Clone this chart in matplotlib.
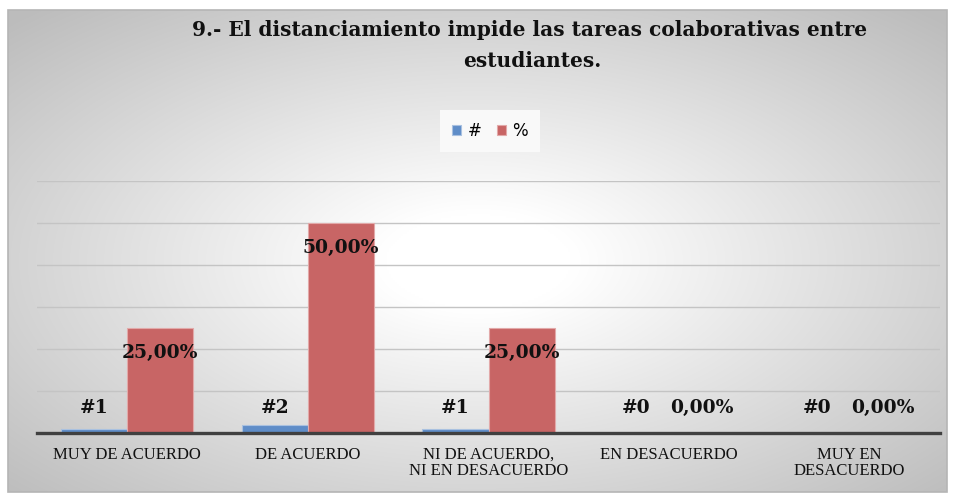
import numpy as np
import matplotlib
matplotlib.use("Agg")
import matplotlib.pyplot as plt
from matplotlib.patches import Rectangle

categories = ["MUY DE ACUERDO", "DE ACUERDO", "NI DE ACUERDO,\nNI EN DESACUERDO",
              "EN DESACUERDO", "MUY EN\nDESACUERDO"]
counts = [1, 2, 1, 0, 0]
percents = [25.0, 50.0, 25.0, 0.0, 0.0]
count_labels = ["#1", "#2", "#1", "#0", "#0"]
percent_labels = ["25,00%", "50,00%", "25,00%", "0,00%", "0,00%"]
series_names = ["#", "%"]
title_lines = ["9.- El distanciamiento impide las tareas colaborativas entre",
               "estudiantes."]

W, H, DPI = 956, 499, 100
fig = plt.figure(figsize=(W / DPI, H / DPI), dpi=DPI)
fig.patch.set_facecolor("white")

# background chart area with radial gradient
bg = fig.add_axes([8 / W, 1 - 492 / H, (947 - 8) / W, (492 - 10) / H])
bg.set_axis_off()
ny, nx = 240, 470
yy, xx = np.mgrid[0:ny, 0:nx]
cx, cy = nx * 0.5, ny * 0.52
r = np.sqrt(((xx - cx) / (nx * 0.5)) ** 2 + ((yy - cy) / (ny * 0.5)) ** 2)
val = 1 - 0.26 * np.clip((r - 0.2) / 1.2, 0, 1)
img = np.dstack([val, val, val])
bg.imshow(img, aspect="auto", extent=[0, 1, 0, 1], interpolation="bilinear")
bg.set_xlim(0, 1)
bg.set_ylim(0, 1)
bg.add_patch(Rectangle((0, 0), 1, 1, fill=False, edgecolor="#b5b5b5", linewidth=1.2,
                       transform=bg.transAxes, clip_on=False))

ax = fig.add_axes([37 / W, 1 - 433 / H, (940 - 37) / W, (433 - 181) / H])
ax.patch.set_alpha(0)
x = np.arange(len(categories))
bw = 0.366
off = 0.183
ax.bar(x - off, counts, width=bw, color="#5f8dc8", edgecolor="#a9c1e0", linewidth=0.8,
       zorder=3, label=series_names[0])
ax.bar(x + off, percents, width=bw, color="#c86565", edgecolor="#e2a9a9", linewidth=0.8,
       zorder=3, label=series_names[1])

ax.set_xlim(-0.5, len(categories) - 0.5)
ax.set_ylim(0, 60)
ax.set_yticks(np.arange(10, 61, 10))
ax.yaxis.grid(True, color="#c4c4c4", linewidth=1.0, zorder=0)
ax.tick_params(axis="y", length=0, labelleft=False)
for s in ["top", "right", "left"]:
    ax.spines[s].set_visible(False)
ax.spines["bottom"].set_color("#404040")
ax.spines["bottom"].set_linewidth(2.4)
ax.spines["bottom"].set_zorder(4)
ax.set_xticks(x)
ax.set_xticklabels(categories, fontfamily="Liberation Serif", fontsize=12,
                   linespacing=1.0, color="#111111", va="top")
ax.tick_params(axis="x", length=0, pad=10)

lab_font = dict(fontfamily="DejaVu Serif", fontweight="bold", fontsize=13.5, color="#111111")
for i in range(len(categories)):
    ax.text(x[i] - off, 6, count_labels[i], ha="center", va="center", zorder=5, **lab_font)
    py = percents[i] - 6 if percents[i] > 0 else 6
    ax.text(x[i] + off, py, percent_labels[i], ha="center", va="center", zorder=5, **lab_font)

title_font = dict(fontfamily="DejaVu Serif", fontweight="bold", fontsize=14.5, color="#111111")
fig.text(530 / W, 1 - 36 / H, title_lines[0], ha="center", va="baseline", **title_font)
fig.text(532 / W, 1 - 67 / H, title_lines[1], ha="center", va="baseline", **title_font)

leg = ax.legend(loc="center", bbox_to_anchor=(490 / W, 1 - 131 / H),
                bbox_transform=fig.transFigure, ncol=2, frameon=True,
                facecolor="#f9f9f9", edgecolor="none", framealpha=1, fancybox=False,
                handlelength=0.55, handleheight=0.55, handletextpad=0.4,
                columnspacing=0.9, prop={"family": "DejaVu Sans", "size": 12},
                borderpad=0.7)

fig.savefig("out.png", dpi=DPI)
